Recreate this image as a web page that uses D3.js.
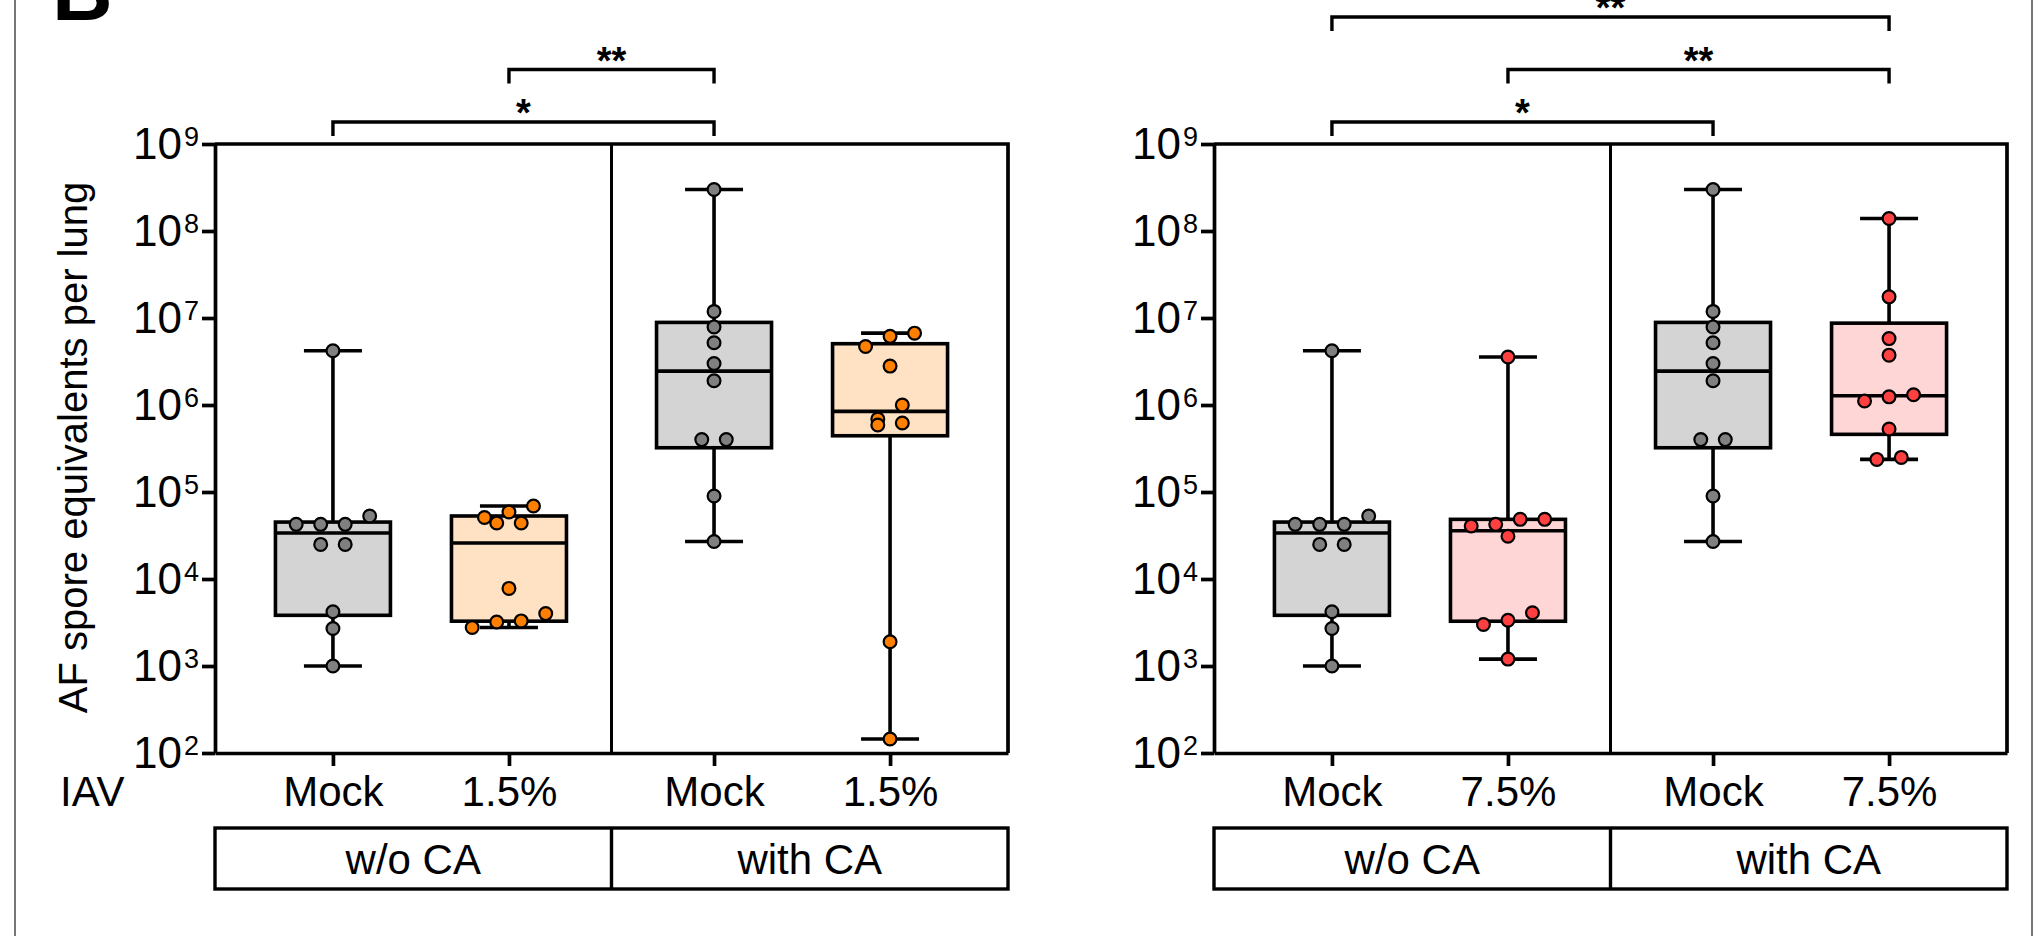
<!DOCTYPE html>
<html>
<head>
<meta charset="utf-8">
<script src="https://cdn.jsdelivr.net/npm/d3@7"></script>
<style>
  html, body { margin: 0; padding: 0; background: #fff; }
  svg { display: block; font-family: "Liberation Sans", Arial, Helvetica, sans-serif; }
</style>
</head>
<body>
<svg id="chart" width="2044" height="936"></svg>
<script>
// AF spore equivalents per lung, one value per mouse
const mockNoCA = [1.0e3, 2.7e3, 4.2e3, 2.5e4, 2.5e4, 4.25e4, 4.25e4, 4.25e4, 5.3e4, 4.2e6];
const mockCA = [2.7e4, 9.0e4, 4.0e5, 4.0e5, 1.9e6, 3.0e6, 5.2e6, 7.9e6, 1.19e7, 3.0e8];
const iav15NoCA = [2.77e3, 3.2e3, 3.3e3, 4.0e3, 7.8e3, 4.4e4, 4.4e4, 5.1e4, 5.9e4, 6.9e4];
const iav15CA = [1.45e2, 1.9e3, 5.9e5, 6.2e5, 6.9e5, 1.0e6, 2.8e6, 4.7e6, 6.15e6, 6.7e6];
const iav75NoCA = [1.2e3, 3.0e3, 3.36e3, 4.1e3, 3.1e4, 4.07e4, 4.25e4, 4.85e4, 4.85e4, 3.56e6];
const iav75CA = [2.37e5, 2.5e5, 5.3e5, 1.11e6, 1.24e6, 1.31e6, 3.74e6, 5.8e6, 1.75e7, 1.39e8];

const exponents = [2, 3, 4, 5, 6, 7, 8, 9];
const caLabels = ['w/o CA', 'with CA'];
const leftLabels = ['Mock', '1.5%', 'Mock', '1.5%'];
const rightLabels = ['Mock', '7.5%', 'Mock', '7.5%'];
// [from group, to group, label]
const leftStars = [[0, 2, '*'], [1, 2, '**']];
const rightStars = [[0, 2, '*'], [1, 3, '**'], [0, 3, '**']];

const grayFill = '#d4d4d4', grayDot = '#808080';
const orangeFill = '#ffe1c4', orangeDot = '#ff8000';
const redFill = '#ffd6d6', redDot = '#ff4040';

const svg = d3.select('#chart');
const plotTop = 144, plotBottom = 753, panelW = 793;
const y = d3.scaleLog().domain([1e2, 1e9]).range([plotBottom, plotTop]);

// GraphPad-style quartile, position p*(n+1)
function quartile(sorted, p) {
  const pos = p * (sorted.length + 1) - 1;
  const lo = Math.max(0, Math.min(sorted.length - 1, Math.floor(pos)));
  const hi = Math.min(sorted.length - 1, lo + 1);
  return sorted[lo] + (pos - lo) * (sorted[hi] - sorted[lo]);
}

// spread points that share a row
function swarm(values, rowGap, lane) {
  const pts = values.map((v) => ({ v, y: y(v) })).sort((a, b) => a.y - b.y);
  const rows = [];
  pts.forEach((p) => {
    const row = rows[rows.length - 1];
    if (row && p.y - row[0].y < rowGap) row.push(p);
    else rows.push([p]);
  });
  rows.forEach((row) => {
    row.sort((a, b) => a.v - b.v);
    row.forEach((p, i) => (p.dx = (i - (row.length - 1) / 2) * lane));
  });
  return pts;
}

function drawPanel(left, series, fills, dots, labels, stars, first) {
  const unit = (i) => i + (i >= 2 ? 0.165 : 0);
  const x = d3.scaleLinear().domain([-0.67, 3.835]).range([left, left + panelW]);
  const mid = x(1.5825);
  const g = svg.append('g');

  // y axis
  const yAxis = g.append('g')
    .attr('transform', `translate(${left},0)`)
    .call(d3.axisLeft(y).tickValues(exponents.map((e) => 10 ** e)).tickSize(13).tickSizeOuter(0).tickFormat(''));
  yAxis.selectAll('path, line').attr('stroke', '#000').attr('stroke-width', 3.7);

  const lab = g.selectAll('.ylab').data(exponents).enter().append('text')
    .attr('x', left - 16)
    .attr('y', (e) => y(10 ** e) + 15)
    .attr('text-anchor', 'end')
    .attr('font-size', 44);
  lab.append('tspan').text('10');
  lab.append('tspan').attr('dy', -13).attr('dx', 2).attr('font-size', 27).text((e) => e);

  // x axis
  const xAxis = g.append('g')
    .attr('transform', `translate(0,${plotBottom})`)
    .call(d3.axisBottom(x).tickValues([0, 1, 2, 3].map(unit)).tickSize(13).tickSizeOuter(0)
      .tickPadding(10).tickFormat((d, i) => labels[i]));
  xAxis.attr('font-family', null).attr('font-size', null);
  xAxis.selectAll('path, line').attr('stroke', '#000').attr('stroke-width', 3.7);
  xAxis.selectAll('text').attr('font-size', 42).attr('fill', '#000');

  // frame
  g.append('path')
    .attr('d', `M${left},${plotTop}H${left + panelW}V${plotBottom}`)
    .attr('fill', 'none').attr('stroke', '#000').attr('stroke-width', 3.7);
  g.append('line')
    .attr('x1', mid).attr('x2', mid).attr('y1', plotTop).attr('y2', plotBottom)
    .attr('stroke', '#000').attr('stroke-width', 3);

  // boxes
  const boxW = 115, capW = 58;
  series.forEach((vals, i) => {
    const cx = x(unit(i));
    const s = vals.slice().sort((a, b) => a - b);
    const q1 = quartile(s, 0.25), med = quartile(s, 0.5), q3 = quartile(s, 0.75);
    const bg = g.append('g');
    bg.append('line').attr('x1', cx).attr('x2', cx).attr('y1', y(s[s.length - 1])).attr('y2', y(q3));
    bg.append('line').attr('x1', cx).attr('x2', cx).attr('y1', y(q1)).attr('y2', y(s[0]));
    [s[0], s[s.length - 1]].forEach((v) => {
      bg.append('line').attr('x1', cx - capW / 2).attr('x2', cx + capW / 2).attr('y1', y(v)).attr('y2', y(v));
    });
    bg.append('rect')
      .attr('x', cx - boxW / 2).attr('y', y(q3))
      .attr('width', boxW).attr('height', y(q1) - y(q3))
      .attr('fill', fills[i]);
    bg.append('line').attr('x1', cx - boxW / 2).attr('x2', cx + boxW / 2).attr('y1', y(med)).attr('y2', y(med));
    bg.selectAll('line, rect').attr('stroke', '#000').attr('stroke-width', 3.6);

    g.selectAll(null).data(swarm(vals, 14.5, 24.5)).enter().append('circle')
      .attr('cx', (d) => cx + d.dx)
      .attr('cy', (d) => d.y)
      .attr('r', 6.4)
      .attr('fill', dots[i])
      .attr('stroke', '#000')
      .attr('stroke-width', 2.2);
  });

  // significance brackets
  stars.forEach(([a, b, label], level) => {
    const by = 122 - 52.5 * level;
    const x1 = x(unit(a)), x2 = x(unit(b));
    g.append('path')
      .attr('d', `M${x1},${by + 14}V${by}H${x2}V${by + 14}`)
      .attr('fill', 'none').attr('stroke', '#000').attr('stroke-width', 3.4);
    g.append('text')
      .attr('x', (x1 + x2) / 2).attr('y', by + 4)
      .attr('text-anchor', 'middle')
      .attr('font-size', 38).attr('font-weight', 'bold')
      .text(label);
  });

  // CA label box
  const boxTop = 828, boxH = 61;
  g.append('rect')
    .attr('x', left).attr('y', boxTop).attr('width', panelW).attr('height', boxH)
    .attr('fill', 'none').attr('stroke', '#000').attr('stroke-width', 3.4);
  g.append('line')
    .attr('x1', mid).attr('x2', mid).attr('y1', boxTop).attr('y2', boxTop + boxH)
    .attr('stroke', '#000').attr('stroke-width', 3.4);
  g.selectAll('.ca').data(caLabels).enter().append('text')
    .attr('x', (d, i) => (i === 0 ? (left + mid) / 2 : (mid + left + panelW) / 2))
    .attr('y', boxTop + 46)
    .attr('text-anchor', 'middle')
    .attr('font-size', 42)
    .text((d) => d);

  if (first) {
    g.append('text').attr('x', 60).attr('y', 806).attr('font-size', 42).text('IAV');
    g.append('text')
      .attr('transform', `translate(87,${(180 + 715) / 2}) rotate(-90)`)
      .attr('text-anchor', 'middle')
      .attr('font-size', 40)
      .text('AF spore equivalents per lung');
  }
}

// figure border and panel letter
[15, 2032].forEach((bx) => {
  svg.append('line').attr('x1', bx).attr('x2', bx).attr('y1', 0).attr('y2', 936)
    .attr('stroke', '#777').attr('stroke-width', 2);
});
svg.append('text').attr('x', 52).attr('y', 20).attr('font-size', 84).attr('font-weight', 'bold').text('B');

drawPanel(215, [mockNoCA, iav15NoCA, mockCA, iav15CA],
  [grayFill, orangeFill, grayFill, orangeFill], [grayDot, orangeDot, grayDot, orangeDot],
  leftLabels, leftStars, true);
drawPanel(1214, [mockNoCA, iav75NoCA, mockCA, iav75CA],
  [grayFill, redFill, grayFill, redFill], [grayDot, redDot, grayDot, redDot],
  rightLabels, rightStars, false);
</script>
</body>
</html>
